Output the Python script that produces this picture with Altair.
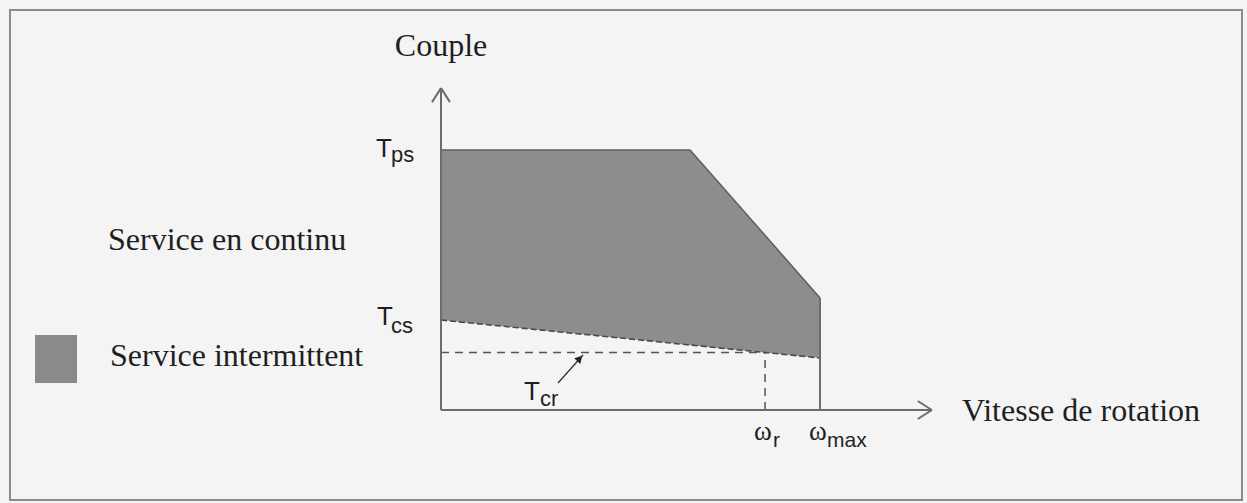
import altair as alt
import pandas as pd

# ---------------------------------------------------------------
# Torque / speed envelope of a motor, in per-unit values
# (speed in units of omega_max, torque in units of T_ps)
# ---------------------------------------------------------------
speed_peak = [0.0, 0.657, 1.0]
torque_peak = [1.0, 1.0, 0.431]          # intermittent-duty limit
speed_cont = [0.0, 1.0]
torque_cont = [0.346, 0.2]               # continuous-duty limit (T_cs at zero speed)
omega_r = 0.855                          # rated speed
t_cr = 0.221                             # rated torque T_cr
omega_max = 1.0

axis_x_end = 1.295
axis_y_end = 1.238

W, H = 1247, 503
X_DOMAIN = [-1.1636, 2.1266]
Y_DOMAIN = [-0.3577, 1.5769]

xs = alt.Scale(domain=X_DOMAIN, nice=False, zero=False)
ys = alt.Scale(domain=Y_DOMAIN, nice=False, zero=False)

BG = "#f4f4f4"
GREY = "#8d8d8d"
AXIS = "#6c6c6c"
INK = "#1f1f1f"


def X(field):
    return alt.X(field, type="quantitative", scale=xs, axis=None)


def Y(field):
    return alt.Y(field, type="quantitative", scale=ys, axis=None)


# shaded intermittent region, then the continuous region painted over it
peak_df = pd.DataFrame({"w": speed_peak, "t": torque_peak})
cont_df = pd.DataFrame({"w": speed_cont, "t": torque_cont})

peak_area = alt.Chart(peak_df).mark_area(color=GREY, opacity=1).encode(
    x=X("w"), y=Y("t"), y2=alt.datum(0)
)
cont_area = alt.Chart(cont_df).mark_area(color=BG, opacity=1).encode(
    x=X("w"), y=Y("t"), y2=alt.datum(0)
)
peak_edge = alt.Chart(peak_df).mark_line(color="#5e5e5e", strokeWidth=1.5).encode(
    x=X("w"), y=Y("t")
)
cont_edge = alt.Chart(cont_df).mark_line(
    color="#4a4a4a", strokeWidth=1.6, strokeDash=[6, 3]
).encode(x=X("w"), y=Y("t"))

# axes with open arrow heads, and the vertical limit at omega_max
solid_segments = pd.DataFrame({
    "x": [0.0, 0.0, 0.0, 0.0, axis_x_end, axis_x_end, omega_max],
    "y": [0.0, axis_y_end, axis_y_end, 0.0, 0.0, 0.0, 0.0],
    "x2": [0.0, -0.0237, 0.0237, axis_x_end, axis_x_end - 0.037, axis_x_end - 0.037, omega_max],
    "y2": [axis_y_end, axis_y_end - 0.054, axis_y_end - 0.054, 0.0, 0.0346, -0.0346, torque_peak[-1]],
})
solid = alt.Chart(solid_segments).mark_rule(color=AXIS, strokeWidth=2).encode(
    x=X("x"), y=Y("y"), x2="x2", y2="y2"
)

# rated point guides
dashed_segments = pd.DataFrame({
    "x": [0.0, omega_r],
    "y": [t_cr, 0.0],
    "x2": [omega_r, omega_r],
    "y2": [t_cr, t_cr],
})
dashed = alt.Chart(dashed_segments).mark_rule(
    color="#555555", strokeWidth=1.5, strokeDash=[8, 6]
).encode(x=X("x"), y=Y("y"), x2="x2", y2="y2")

# pointer from the T_cr label to the rated-torque line
pointer_df = pd.DataFrame({"x": [0.3087], "y": [0.1038], "x2": [0.3747], "y2": [0.2115]})
pointer = alt.Chart(pointer_df).mark_rule(color="#333333", strokeWidth=1.3).encode(
    x=X("x"), y=Y("y"), x2="x2", y2="y2"
)
pointer_head = alt.Chart(pd.DataFrame({"x": [0.366], "y": [0.198]})).mark_point(
    shape="triangle-up", filled=True, color="#222222", size=70, angle=43, opacity=1
).encode(x=X("x"), y=Y("y"))

# legend swatch
swatch_df = pd.DataFrame({"x": [-1.0712], "x2": [-0.9604], "y": [0.2885], "y2": [0.1038]})
swatch = alt.Chart(swatch_df).mark_rect(color="#8a8a8a").encode(
    x=X("x"), x2="x2", y=Y("y"), y2="y2"
)

# outer frame
frame = alt.Chart(pd.DataFrame({"k": [0]})).mark_rect(
    fillOpacity=0, stroke="#8c8c8c", strokeWidth=2
).encode(x=alt.value(10), x2=alt.value(1242), y=alt.value(10), y2=alt.value(500))


def labels(texts, xv, yv, font, size, align="left"):
    df = pd.DataFrame({"x": xv, "y": yv, "txt": texts})
    return alt.Chart(df).mark_text(
        font=font, fontSize=size, align=align, baseline="alphabetic", color=INK
    ).encode(x=X("x"), y=Y("y"), text="txt:N")


serif_labels = labels(
    ["Vitesse de rotation", "Service en continu", "Service intermittent"],
    [1.3747, -0.8786, -0.8734],
    [-0.0423, 0.6154, 0.1692],
    "Liberation Serif", 32,
)
couple = labels(["Couple"], [0.0], [1.3615], "Liberation Serif", 32, align="center")

t_main = labels(["T", "T", "T"], [-0.1715, -0.1689, 0.2190], [0.973, 0.327, 0.0385],
                "Liberation Sans", 26)
t_subs = labels(["ps", "cs", "cr"], [-0.1319, -0.1319, 0.261], [0.953, 0.298, 0.017],
                "Liberation Sans", 22)
omegas = labels(["ω", "ω"], [0.8258, 0.9710], [-0.1154, -0.1154], "Liberation Serif", 27)
omega_subs = labels(["r", "max"], [0.8760, 1.0185], [-0.1423, -0.1423], "Liberation Sans", 21)

chart = alt.layer(
    frame, peak_area, cont_area, peak_edge, cont_edge, dashed, solid,
    pointer, pointer_head, swatch,
    serif_labels, couple, t_main, t_subs, omegas, omega_subs,
).properties(
    width=W, height=H, background=BG, padding=0,
    autosize=alt.AutoSizeParams(type="none"),
).configure_view(stroke=None)

chart.save("out.html", embed_options={"renderer": "svg", "actions": False})
